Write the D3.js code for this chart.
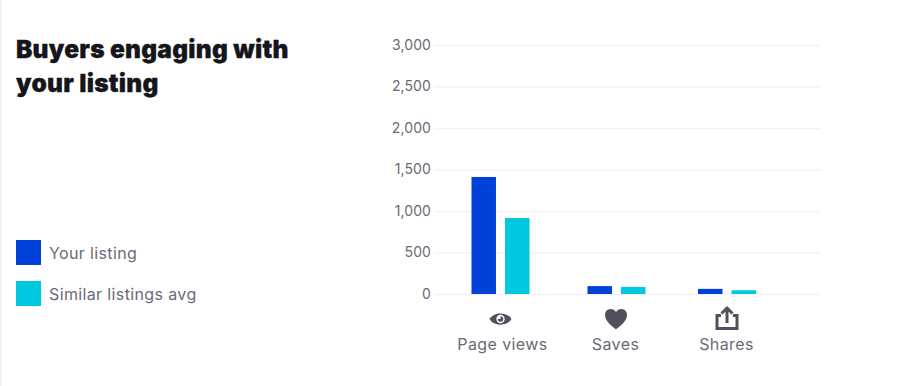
<!DOCTYPE html>
<html>
<head>
<meta charset="utf-8">
<script src="https://cdn.jsdelivr.net/npm/d3@7"></script>
<style>
  html, body { margin: 0; padding: 0; background: #fff; }
  svg { display: block; font-family: Inter, "Open Sans", sans-serif; }
</style>
</head>
<body>
<svg id="chart" width="900" height="386"></svg>
<script>
// Chart data
const categories = ["Page views", "Saves", "Shares"];
const seriesNames = ["Your listing", "Similar listings avg"];
const yourListing = [1410, 95, 62];
const similarAvg = [915, 85, 45];
const yTicks = [0, 500, 1000, 1500, 2000, 2500, 3000];
const titleLines = ["Buyers engaging with", "your listing"];

const colors = ["#0041d9", "#00c8de"];
const iconColor = "#52505f";
const textColor = "#6b6a78";

const svg = d3.select("#chart");

// thin border down the left side of the card
svg.append("rect").attr("x", 0).attr("y", 0).attr("width", 1.5).attr("height", 386).attr("fill", "#f0f0f2");

// Title
svg.append("g").selectAll("text")
    .data(titleLines)
    .enter().append("text")
    .attr("x", 16)
    .attr("y", (d, i) => 58 + i * 34)
    .style("font-size", "24.5px")
    .style("font-weight", 900)
    .style("letter-spacing", "0.25px")
    .style("fill", "#15151c")
    .style("stroke", "#15151c")
    .style("stroke-width", 0.3)
    .text(d => d);

// Legend
const legend = svg.append("g").selectAll("g")
    .data(seriesNames)
    .enter().append("g")
    .attr("transform", (d, i) => `translate(16, ${240 + i * 41})`);
legend.append("rect")
    .attr("width", 25)
    .attr("height", 25)
    .attr("fill", (d, i) => colors[i]);
legend.append("text")
    .attr("x", 33)
    .attr("y", 18.5)
    .style("font-size", "16px")
    .style("letter-spacing", "0.37px")
    .style("fill", textColor)
    .text(d => d);

// Scales
const yScale = d3.scaleLinear().domain([0, 3000]).range([294, 45]);
// category gaps are not even in the reference, so ordinal scales with explicit stops
const xScale = d3.scaleOrdinal().domain(categories).range([500.5, 616.5, 727]);
const labelScale = d3.scaleOrdinal().domain(categories).range([502.5, 615.5, 726.5]);
const barScale = d3.scaleBand().domain(seriesNames).range([-29, 29]).paddingInner(0.27);

// Y axis with gridlines
const yAxis = d3.axisLeft(yScale)
    .tickValues(yTicks)
    .tickFormat(d3.format(","))
    .tickSize(-386)
    .tickPadding(3);
const yGroup = svg.append("g")
    .attr("transform", "translate(434, 0)")
    .call(yAxis);
yGroup.select(".domain").remove();
yGroup.selectAll("line").attr("stroke", "#f3f3f5").attr("stroke-width", 1.5);
yGroup.selectAll("text")
    .style("font-family", "Inter, sans-serif")
    .style("font-size", "14px")
    .style("letter-spacing", "0.1px")
    .style("fill", textColor);

// Bars
const groups = svg.append("g").selectAll("g")
    .data(categories)
    .enter().append("g")
    .attr("transform", d => `translate(${xScale(d)}, 0)`);

[yourListing, similarAvg].forEach((values, s) => {
    groups.append("rect")
        .attr("x", barScale(seriesNames[s]))
        .attr("width", barScale.bandwidth())
        .attr("y", (d, i) => yScale(values[i]))
        .attr("height", (d, i) => yScale(0) - yScale(values[i]))
        .attr("fill", colors[s]);
});

// Category labels
svg.append("g").selectAll("text")
    .data(categories)
    .enter().append("text")
    .attr("x", d => labelScale(d))
    .attr("y", 350)
    .attr("text-anchor", "middle")
    .style("font-size", "16px")
    .style("letter-spacing", "0.4px")
    .style("fill", textColor)
    .text(d => d);

// Icons above the labels
const icons = svg.append("g").selectAll("g")
    .data(categories)
    .enter().append("g")
    .attr("transform", d => `translate(${xScale(d)}, 319)`);

// eye
const eye = icons.filter(d => d === "Page views");
eye.append("path")
    .attr("d", "M-11,0 C-7,-7.5 7,-7.5 11,0 C7,7.5 -7,7.5 -11,0 Z")
    .attr("fill", iconColor);
eye.append("circle").attr("r", 4.2).attr("fill", "#fff");
eye.append("path")
    .attr("d", "M0,-2.8 A2.8,2.8 0 1 1 -2.8,0 L0,0 Z")
    .attr("fill", iconColor);

// heart
icons.filter(d => d === "Saves").append("path")
    .attr("transform", "translate(-0.5, 0)")
    .attr("d", "M0,10.5 C-3,7.5 -11,3 -11,-4 C-11,-8 -8,-10 -5.5,-10 C-3,-10 -1,-8.8 0,-6.8 C1,-8.8 3,-10 5.5,-10 C8,-10 11,-8 11,-4 C11,3 3,7.5 0,10.5 Z")
    .attr("fill", iconColor);

// share tray with an up arrow
const share = icons.filter(d => d === "Shares");
share.append("path")
    .attr("d", "M-6,-3.5 L-10,-3.5 L-10,9.5 L10,9.5 L10,-3.5 L6,-3.5")
    .attr("fill", "none")
    .attr("stroke", iconColor)
    .attr("stroke-width", 3);
share.append("path")
    .attr("d", "M0,4 L0,-9 M-5.5,-5.5 L0,-11 L5.5,-5.5")
    .attr("fill", "none")
    .attr("stroke", iconColor)
    .attr("stroke-width", 3);
</script>
</body>
</html>
